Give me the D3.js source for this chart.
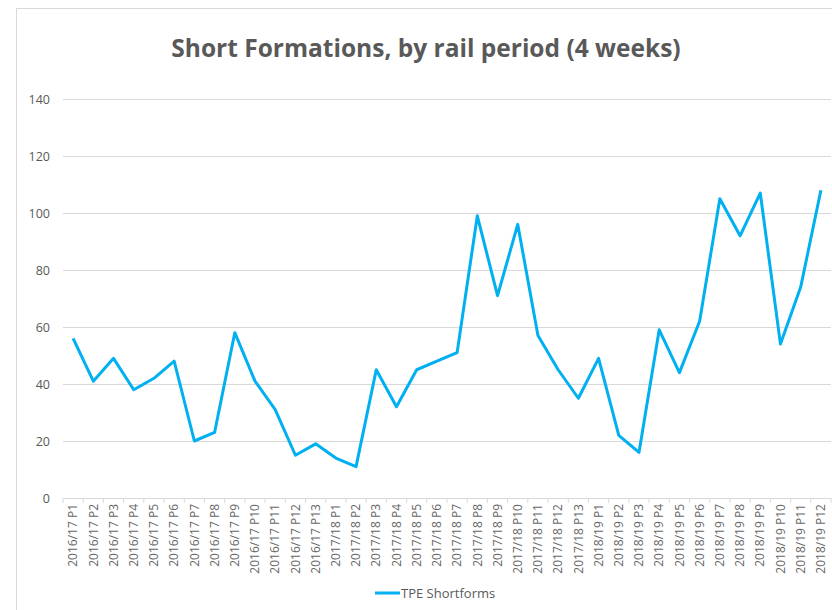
<!DOCTYPE html>
<html lang="en">
  <head>
    <meta charset="UTF-8" />
    <title>Short Formations</title>
    <script src="https://cdn.jsdelivr.net/npm/d3@7"></script>
    <style>
      body { margin: 0; background: #fff; }
      text { font-family: "Open Sans", sans-serif; fill: #595959; }
    </style>
  </head>
  <body>
    <svg class="chart"></svg>
    <script>
      let width = 832
      let height = 610

      let years = ['2016/17', '2017/18', '2018/19']
      let periodsPerYear = [13, 13, 12]

      let shortforms = [
        56, 41, 49, 38, 42, 48, 20, 23, 58, 41, 31, 15, 19,
        14, 11, 45, 32, 45, 48, 51, 99, 71, 96, 57, 45, 35,
        49, 22, 16, 59, 44, 62, 105, 92, 107, 54, 74, 108
      ]
      let yTicks = [0, 20, 40, 60, 80, 100, 120, 140]
      let seriesName = 'TPE Shortforms'

      let categories = []
      years.forEach((y, i) => {
        for (let p = 1; p <= periodsPerYear[i]; p++) categories.push(y + ' P' + p)
      })
      let data = categories.map((c, i) => ({ cat: c, value: shortforms[i] }))

      let margin = { left: 63, right: 1, top: 99, bottom: 112 }

      let svg = d3.select('svg.chart')
        .attr('width', width)
        .attr('height', height)

      // chart area border (cut off right / bottom)
      svg.append('rect')
        .attr('x', 16.5).attr('y', 8.5)
        .attr('width', 900).attr('height', 700)
        .attr('fill', 'none')
        .attr('stroke', '#d9d9d9')

      svg.append('text')
        .attr('x', 426).attr('y', 57)
        .attr('text-anchor', 'middle')
        .style('font-size', '24.5px')
        .style('font-weight', 'bold')
        .text('Short Formations, by rail period (4 weeks)')

      let x = d3.scaleBand()
        .domain(categories)
        .range([margin.left, width - margin.right])

      let y = d3.scaleLinear()
        .domain([0, 140])
        .range([height - margin.bottom, margin.top])

      // gridlines + y labels
      let yAxis = svg.append('g')
        .attr('transform', `translate(${margin.left},0)`)
        .call(d3.axisLeft(y).tickValues(yTicks).tickSize(-(width - margin.left - margin.right)).tickPadding(13))
      yAxis.select('.domain').remove()
      yAxis.selectAll('line').attr('stroke', '#d9d9d9').attr('stroke-width', 1.2)
      yAxis.selectAll('line').filter(d => d === 0).remove()
      yAxis.selectAll('text').style('font-size', '12.5px').style('fill', '#595959')

      // category axis
      let xAxis = svg.append('g')
        .attr('transform', `translate(0,${y(0)})`)
        .call(d3.axisBottom(x).tickSize(0).tickSizeOuter(0))
      xAxis.select('.domain').attr('stroke', '#d9d9d9').attr('stroke-width', 1.2)
      xAxis.selectAll('text')
        .style('font-size', '12px')
        .style('fill', '#666')
        .attr('transform', 'rotate(-90)')
        .attr('text-anchor', 'end')
        .attr('x', -6)
        .attr('y', 0)
        .attr('dy', '0.35em')

      // tick marks between categories
      svg.append('g')
        .selectAll('line')
        .data(categories.concat(['end']))
        .enter()
        .append('line')
        .attr('x1', (d, i) => x.range()[0] + i * x.step())
        .attr('x2', (d, i) => x.range()[0] + i * x.step())
        .attr('y1', y(0))
        .attr('y2', y(0) + 5)
        .attr('stroke', '#d9d9d9')

      let line = d3.line()
        .x(d => x(d.cat) + x.bandwidth() / 2)
        .y(d => y(d.value))

      svg.append('path')
        .datum(data)
        .attr('d', line)
        .attr('fill', 'none')
        .attr('stroke', '#00b0f0')
        .attr('stroke-width', 3)
        .attr('stroke-linejoin', 'round')

      // legend
      let legend = svg.append('g').attr('transform', 'translate(375,593)')
      legend.append('line')
        .attr('x1', 0).attr('x2', 25)
        .attr('stroke', '#00b0f0').attr('stroke-width', 3)
      legend.append('text')
        .attr('x', 26).attr('dy', '0.35em')
        .style('font-size', '13px')
        .text(seriesName)
    </script>
  </body>
</html>
